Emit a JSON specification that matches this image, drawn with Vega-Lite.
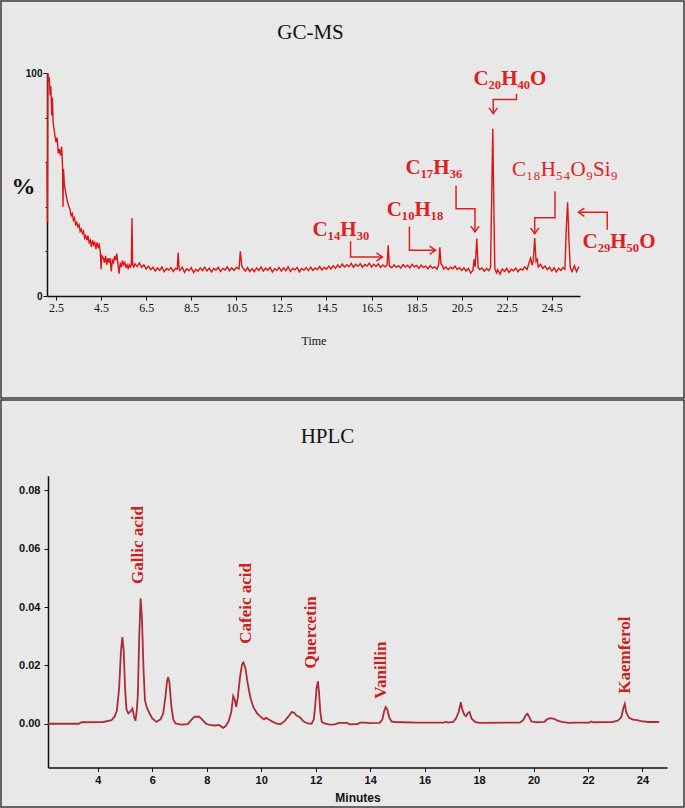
{
  "$schema": "https://vega.github.io/schema/vega-lite/v6.json",
  "background": "#e8e8e8",
  "padding": 0,
  "spacing": 0,
  "config": {
    "view": {"stroke": "#3a3a3a", "strokeWidth": 1.5, "fill": "#e8e8e8"},
    "axis": {"grid": false, "labelFlush": false, "domainColor": "#111", "tickColor": "#111", "labelColor": "#111", "titleColor": "#111"}
  },
  "datasets": {
    "gc": [
      {"t":2.10,"v":60},{"t":2.12,"v":33},{"t":2.14,"v":100},{"t":2.17,"v":96},{"t":2.2,"v":98},{"t":2.24,"v":90},{"t":2.27,"v":94},{"t":2.31,"v":81},{"t":2.34,"v":89},{"t":2.37,"v":78},{"t":2.4,"v":76},{"t":2.45,"v":72},{"t":2.5,"v":69},{"t":2.55,"v":71},{"t":2.6,"v":64},{"t":2.65,"v":66},{"t":2.7,"v":63},{"t":2.75,"v":67},{"t":2.79,"v":58},{"t":2.81,"v":40},{"t":2.83,"v":57},{"t":2.87,"v":50},{"t":2.92,"v":47},{"t":2.97,"v":44},{"t":3.02,"v":42},{"t":3.07,"v":40},{"t":3.12,"v":39},{"t":3.17,"v":36},{"t":3.22,"v":37},{"t":3.27,"v":34},{"t":3.32,"v":35},{"t":3.37,"v":32},{"t":3.42,"v":33},{"t":3.47,"v":31},{"t":3.52,"v":32},{"t":3.57,"v":29},{"t":3.62,"v":30},{"t":3.67,"v":28},{"t":3.72,"v":29},{"t":3.77,"v":26},{"t":3.82,"v":27},{"t":3.87,"v":25},{"t":3.92,"v":27},{"t":3.97,"v":24},{"t":4.02,"v":25},{"t":4.07,"v":22},{"t":4.12,"v":25},{"t":4.17,"v":23},{"t":4.22,"v":24},{"t":4.27,"v":21},{"t":4.32,"v":24},{"t":4.37,"v":22},{"t":4.42,"v":23},{"t":4.47,"v":19},{"t":4.5,"v":12},{"t":4.53,"v":18},{"t":4.6,"v":17},{"t":4.65,"v":15},{"t":4.7,"v":18},{"t":4.75,"v":14},{"t":4.8,"v":17},{"t":4.85,"v":15},{"t":4.9,"v":17},{"t":4.95,"v":11},{"t":5.0,"v":16},{"t":5.05,"v":15},{"t":5.1,"v":18},{"t":5.15,"v":16},{"t":5.2,"v":19},{"t":5.25,"v":14},{"t":5.3,"v":10},{"t":5.35,"v":15},{"t":5.4,"v":13},{"t":5.45,"v":16},{"t":5.5,"v":14},{"t":5.55,"v":15},{"t":5.6,"v":13},{"t":5.65,"v":14},{"t":5.7,"v":12},{"t":5.75,"v":14},{"t":5.8,"v":13},{"t":5.84,"v":14},{"t":5.87,"v":35},{"t":5.9,"v":14},{"t":5.95,"v":13},
      {"t":6.0,"v":14.5},{"t":6.1,"v":13.2},{"t":6.2,"v":14.8},{"t":6.3,"v":12.9},{"t":6.4,"v":13.9},{"t":6.5,"v":12.1},{"t":6.6,"v":13.4},{"t":6.7,"v":11.8},{"t":6.8,"v":12.9},{"t":6.9,"v":11.2},{"t":7.0,"v":12.6},{"t":7.1,"v":11.5},{"t":7.2,"v":13.0},{"t":7.3,"v":10.9},{"t":7.4,"v":12.3},{"t":7.5,"v":11.6},{"t":7.6,"v":12.8},{"t":7.7,"v":11.0},{"t":7.8,"v":12.4},{"t":7.88,"v":12.0},{"t":7.92,"v":19.5},{"t":7.96,"v":12.5},{"t":8.0,"v":11.4},{"t":8.1,"v":12.9},{"t":8.2,"v":10.6},{"t":8.3,"v":12.2},{"t":8.4,"v":11.3},{"t":8.5,"v":12.7},{"t":8.6,"v":10.5},{"t":8.7,"v":12.0},{"t":8.8,"v":11.1},{"t":8.9,"v":12.6},{"t":9.0,"v":11.4},{"t":9.1,"v":13.0},{"t":9.2,"v":11.2},{"t":9.3,"v":12.5},{"t":9.4,"v":10.8},{"t":9.5,"v":12.3},{"t":9.6,"v":11.6},{"t":9.7,"v":12.9},{"t":9.8,"v":11.0},{"t":9.9,"v":12.4},{"t":10.0,"v":11.7},{"t":10.1,"v":13.1},{"t":10.2,"v":11.3},{"t":10.3,"v":12.6},{"t":10.4,"v":11.5},{"t":10.5,"v":12.8},{"t":10.62,"v":12.2},{"t":10.68,"v":20.0},{"t":10.74,"v":13.6},{"t":10.8,"v":12.5},{"t":10.9,"v":11.2},{"t":11.0,"v":12.7},{"t":11.1,"v":11.0},{"t":11.2,"v":12.3},{"t":11.3,"v":10.9},{"t":11.4,"v":12.6},{"t":11.5,"v":11.4},{"t":11.6,"v":13.0},{"t":11.7,"v":11.1},{"t":11.8,"v":12.5},{"t":11.9,"v":11.6},{"t":12.0,"v":12.9},{"t":12.1,"v":10.7},{"t":12.2,"v":12.2},{"t":12.3,"v":11.5},{"t":12.4,"v":12.8},{"t":12.5,"v":11.2},{"t":12.6,"v":12.6},{"t":12.7,"v":11.3},{"t":12.8,"v":13.1},{"t":12.9,"v":11.0},{"t":13.0,"v":12.4},{"t":13.1,"v":11.7},{"t":13.2,"v":12.8},{"t":13.3,"v":10.8},{"t":13.4,"v":12.3},{"t":13.5,"v":11.6},{"t":13.6,"v":12.7},{"t":13.7,"v":11.4},{"t":13.8,"v":12.9},{"t":13.9,"v":11.5},{"t":14.0,"v":12.6},{"t":14.1,"v":11.9},{"t":14.2,"v":13.2},{"t":14.3,"v":11.6},{"t":14.4,"v":12.9},{"t":14.5,"v":12.0},{"t":14.6,"v":13.4},{"t":14.7,"v":12.1},{"t":14.8,"v":13.6},{"t":14.9,"v":12.4},{"t":15.0,"v":13.9},{"t":15.1,"v":12.7},{"t":15.2,"v":14.3},{"t":15.3,"v":12.9},{"t":15.4,"v":14.0},{"t":15.5,"v":13.1},{"t":15.6,"v":14.6},{"t":15.7,"v":12.8},{"t":15.8,"v":14.2},{"t":15.9,"v":13.3},{"t":16.0,"v":14.5},{"t":16.1,"v":12.9},{"t":16.2,"v":14.1},{"t":16.3,"v":13.4},{"t":16.4,"v":14.7},{"t":16.5,"v":13.0},{"t":16.6,"v":14.2},{"t":16.7,"v":13.2},{"t":16.8,"v":14.4},{"t":16.9,"v":12.8},{"t":17.0,"v":13.9},{"t":17.1,"v":13.1},{"t":17.19,"v":13.8},{"t":17.24,"v":22.7},{"t":17.29,"v":13.5},{"t":17.4,"v":12.7},{"t":17.5,"v":14.0},{"t":17.6,"v":12.9},{"t":17.7,"v":13.6},{"t":17.8,"v":12.5},{"t":17.9,"v":14.1},{"t":18.0,"v":13.0},{"t":18.1,"v":13.8},{"t":18.2,"v":12.6},{"t":18.3,"v":14.2},{"t":18.4,"v":13.1},{"t":18.5,"v":13.7},{"t":18.6,"v":12.4},{"t":18.7,"v":13.9},{"t":18.8,"v":12.8},{"t":18.9,"v":13.4},{"t":19.0,"v":12.2},{"t":19.1,"v":13.6},{"t":19.2,"v":12.5},{"t":19.3,"v":13.1},{"t":19.4,"v":12.0},{"t":19.48,"v":14.0},{"t":19.53,"v":21.8},{"t":19.58,"v":14.5},{"t":19.65,"v":13.5},{"t":19.7,"v":12.1},{"t":19.8,"v":13.0},{"t":19.9,"v":11.8},{"t":20.0,"v":12.9},{"t":20.1,"v":12.2},{"t":20.2,"v":13.4},{"t":20.3,"v":11.9},{"t":20.4,"v":12.7},{"t":20.5,"v":11.5},{"t":20.6,"v":12.6},{"t":20.7,"v":11.2},{"t":20.8,"v":12.3},{"t":20.9,"v":10.2},{"t":21.0,"v":11.6},{"t":21.05,"v":16.5},{"t":21.1,"v":13.0},{"t":21.17,"v":25.8},{"t":21.23,"v":12.8},{"t":21.3,"v":11.9},{"t":21.4,"v":12.6},{"t":21.5,"v":11.1},{"t":21.6,"v":12.3},{"t":21.7,"v":11.4},{"t":21.78,"v":12.6},{"t":21.84,"v":50},{"t":21.88,"v":75},{"t":21.92,"v":45},{"t":21.97,"v":12.2},{"t":22.05,"v":10.4},{"t":22.1,"v":11.8},{"t":22.2,"v":9.8},{"t":22.3,"v":12.1},{"t":22.4,"v":11.0},{"t":22.5,"v":12.4},{"t":22.6,"v":10.6},{"t":22.7,"v":12.0},{"t":22.8,"v":11.3},{"t":22.9,"v":12.5},{"t":23.0,"v":10.9},{"t":23.1,"v":12.2},{"t":23.2,"v":11.6},{"t":23.3,"v":13.1},{"t":23.4,"v":11.9},{"t":23.5,"v":15.2},{"t":23.56,"v":17.0},{"t":23.62,"v":13.8},{"t":23.68,"v":16.0},{"t":23.74,"v":26.0},{"t":23.8,"v":15.5},{"t":23.85,"v":16.4},{"t":23.9,"v":13.0},{"t":24.0,"v":14.2},{"t":24.1,"v":12.3},{"t":24.2,"v":13.4},{"t":24.3,"v":11.8},{"t":24.4,"v":12.9},{"t":24.5,"v":11.2},{"t":24.6,"v":12.6},{"t":24.7,"v":10.8},{"t":24.8,"v":12.4},{"t":24.9,"v":11.5},{"t":25.0,"v":12.8},{"t":25.08,"v":12.0},{"t":25.14,"v":30},{"t":25.2,"v":42},{"t":25.26,"v":25},{"t":25.32,"v":12.5},{"t":25.4,"v":11.0},{"t":25.5,"v":13.6},{"t":25.6,"v":10.9},{"t":25.7,"v":13.2}
    ],
    "gcArrows": [
      {"arrow":"C20","o":1,"t":22.93,"v":90.6},{"arrow":"C20","o":2,"t":22.93,"v":88.1},{"arrow":"C20","o":3,"t":21.90,"v":88.1},{"arrow":"C20","o":4,"t":21.90,"v":81.7},
      {"arrow":"C17","o":1,"t":20.25,"v":49.6},{"arrow":"C17","o":2,"t":20.25,"v":39.1},{"arrow":"C17","o":3,"t":21.09,"v":39.1},{"arrow":"C17","o":4,"t":21.09,"v":28.7},
      {"arrow":"C10","o":1,"t":18.18,"v":31.2},{"arrow":"C10","o":2,"t":18.18,"v":20.5},{"arrow":"C10","o":3,"t":19.34,"v":20.5},
      {"arrow":"C14","o":1,"t":15.57,"v":24.6},{"arrow":"C14","o":2,"t":15.57,"v":17.5},{"arrow":"C14","o":3,"t":16.98,"v":17.5},
      {"arrow":"C18","o":1,"t":24.64,"v":47.0},{"arrow":"C18","o":2,"t":24.64,"v":35.1},{"arrow":"C18","o":3,"t":23.74,"v":35.1},{"arrow":"C18","o":4,"t":23.74,"v":27.9},
      {"arrow":"C29","o":1,"t":26.96,"v":29.7},{"arrow":"C29","o":2,"t":26.96,"v":37.6},{"arrow":"C29","o":3,"t":25.68,"v":37.6}
    ],
    "gcHeads": [
      {"dir":"down","t":21.90,"v":81.7},{"dir":"down","t":21.09,"v":28.7},{"dir":"down","t":23.74,"v":27.9},
      {"dir":"right","t":19.34,"v":20.5},{"dir":"right","t":16.98,"v":17.5},
      {"dir":"left","t":25.68,"v":37.6}
    ],
    "gcLabels": [
      {"label":"C₂₀H₄₀O","t":22.64,"v":97.5},
      {"label":"C₁₇H₃₆","t":19.27,"v":57.2},
      {"label":"C₁₀H₁₈","t":18.43,"v":38.4},
      {"label":"C₁₄H₃₀","t":15.14,"v":29.4},
      {"label":"C₁₈H₅₄O₉Si₉","t":25.08,"v":56.3},
      {"label":"C₂₉H₅₀O","t":27.48,"v":24.0}
    ],
    "hplc": [
      {"t":2.17,"v":0.0},{"t":3.3,"v":0.0},{"t":3.4,"v":0.0005},{"t":4.2,"v":0.0006},{"t":4.5,"v":0.0012},{"t":4.62,"v":0.0025},{"t":4.7,"v":0.0045},{"t":4.78,"v":0.012},{"t":4.85,"v":0.025},{"t":4.9,"v":0.0297},{"t":4.95,"v":0.025},{"t":5.0,"v":0.012},{"t":5.05,"v":0.005},{"t":5.12,"v":0.0035},{"t":5.2,"v":0.0042},{"t":5.27,"v":0.0052},{"t":5.33,"v":0.0025},{"t":5.38,"v":0.001},{"t":5.43,"v":0.0045},{"t":5.47,"v":0.01},{"t":5.52,"v":0.03},{"t":5.57,"v":0.043},{"t":5.62,"v":0.036},{"t":5.68,"v":0.018},{"t":5.73,"v":0.008},{"t":5.8,"v":0.0055},{"t":5.9,"v":0.0035},{"t":6.0,"v":0.0018},{"t":6.15,"v":0.0006},{"t":6.3,"v":0.0015},{"t":6.4,"v":0.0035},{"t":6.48,"v":0.009},{"t":6.54,"v":0.0145},{"t":6.58,"v":0.016},{"t":6.63,"v":0.014},{"t":6.7,"v":0.006},{"t":6.77,"v":0.0015},{"t":6.85,"v":0.0001},{"t":7.05,"v":-0.0003},{"t":7.3,"v":-0.0001},{"t":7.45,"v":0.0015},{"t":7.55,"v":0.0024},{"t":7.72,"v":0.0024},{"t":7.85,"v":0.0012},{"t":7.97,"v":0.0},{"t":8.1,"v":-0.0004},{"t":8.3,"v":-0.0006},{"t":8.45,"v":-0.0004},{"t":8.6,"v":-0.0014},{"t":8.7,"v":-0.0008},{"t":8.8,"v":0.0008},{"t":8.9,"v":0.004},{"t":8.97,"v":0.0095},{"t":9.02,"v":0.0085},{"t":9.08,"v":0.0058},{"t":9.14,"v":0.009},{"t":9.22,"v":0.016},{"t":9.3,"v":0.0205},{"t":9.35,"v":0.021},{"t":9.42,"v":0.019},{"t":9.5,"v":0.014},{"t":9.6,"v":0.009},{"t":9.72,"v":0.0055},{"t":9.85,"v":0.0035},{"t":10.0,"v":0.0022},{"t":10.1,"v":0.0015},{"t":10.18,"v":0.002},{"t":10.25,"v":0.0016},{"t":10.4,"v":0.0008},{"t":10.55,"v":0.0001},{"t":10.7,"v":-0.0002},{"t":10.85,"v":0.0008},{"t":11.0,"v":0.0025},{"t":11.12,"v":0.004},{"t":11.2,"v":0.0038},{"t":11.3,"v":0.0028},{"t":11.42,"v":0.0022},{"t":11.55,"v":0.0008},{"t":11.7,"v":0.0001},{"t":11.85,"v":0.0},{"t":11.93,"v":0.0015},{"t":11.98,"v":0.006},{"t":12.03,"v":0.012},{"t":12.08,"v":0.0145},{"t":12.12,"v":0.011},{"t":12.17,"v":0.004},{"t":12.22,"v":0.0007},{"t":12.3,"v":0.0002},{"t":12.5,"v":-0.0003},{"t":12.7,"v":-0.0002},{"t":12.85,"v":0.0003},{"t":13.15,"v":0.0003},{"t":13.25,"v":-0.0002},{"t":13.55,"v":-0.0001},{"t":13.62,"v":0.0004},{"t":13.85,"v":0.0004},{"t":13.95,"v":0.0002},{"t":14.35,"v":0.0003},{"t":14.45,"v":0.0015},{"t":14.52,"v":0.0045},{"t":14.57,"v":0.0057},{"t":14.63,"v":0.0048},{"t":14.7,"v":0.0022},{"t":14.78,"v":0.0008},{"t":14.9,"v":0.0006},{"t":15.2,"v":0.0005},{"t":15.7,"v":0.0004},{"t":16.7,"v":0.0004},{"t":16.78,"v":0.0007},{"t":16.85,"v":0.0004},{"t":17.05,"v":0.0006},{"t":17.15,"v":0.0018},{"t":17.25,"v":0.004},{"t":17.33,"v":0.0074},{"t":17.38,"v":0.005},{"t":17.46,"v":0.003},{"t":17.52,"v":0.0026},{"t":17.6,"v":0.0038},{"t":17.65,"v":0.004},{"t":17.72,"v":0.0018},{"t":17.85,"v":0.0006},{"t":18.0,"v":0.0003},{"t":19.5,"v":0.0004},{"t":19.62,"v":0.0012},{"t":19.72,"v":0.003},{"t":19.78,"v":0.0034},{"t":19.85,"v":0.0022},{"t":19.92,"v":0.0008},{"t":20.1,"v":0.0005},{"t":20.4,"v":0.0006},{"t":20.5,"v":0.0016},{"t":20.62,"v":0.0019},{"t":20.75,"v":0.0017},{"t":20.9,"v":0.001},{"t":21.05,"v":0.0006},{"t":21.3,"v":0.0003},{"t":21.5,"v":0.0004},{"t":22.05,"v":0.0004},{"t":22.12,"v":0.0008},{"t":22.2,"v":0.0005},{"t":22.9,"v":0.0006},{"t":23.1,"v":0.0011},{"t":23.22,"v":0.0022},{"t":23.3,"v":0.0055},{"t":23.35,"v":0.0068},{"t":23.4,"v":0.004},{"t":23.5,"v":0.002},{"t":23.65,"v":0.0014},{"t":23.8,"v":0.0012},{"t":23.95,"v":0.0009},{"t":24.2,"v":0.0006},{"t":24.61,"v":0.0006}
    ],
    "hplcLabels": [
      {"label":"Gallic acid","t":5.475,"v":0.0479},
      {"label":"Cafeic acid","t":9.44,"v":0.0274},
      {"label":"Quercetin","t":11.84,"v":0.0189},
      {"label":"Vanillin","t":14.40,"v":0.0086},
      {"label":"Kaemferol","t":23.34,"v":0.0103}
    ]
  },
  "vconcat": [
    {
      "width": 683,
      "height": 397,
      "title": {"text": "GC-MS", "font": "Liberation Serif", "fontSize": 21, "fontWeight": "normal", "color": "#111", "baseline": "alphabetic", "offset": -59, "dx": -32, "anchor": "middle", "frame": "group"},
      "layer": [
        {
          "data": {"name": "gc"},
          "mark": {"type": "line", "color": "#dd1414", "strokeWidth": 1.4},
          "encoding": {
            "x": {"field": "t", "type": "quantitative",
              "scale": {"domain": [2.1, 25.75], "range": [46, 579], "nice": false, "zero": false},
              "axis": {"offset": -102, "title": "Time", "titleFont": "Liberation Serif", "titleFontSize": 12, "titleFontWeight": "normal", "titleY": 44, "titleBaseline": "middle",
                "values": [2.5,4.5,6.5,8.5,10.5,12.5,14.5,16.5,18.5,20.5,22.5,24.5],
                "format": ".1f", "labelOverlap": false,
                "tickSize": 4,
                "labelFont": "Liberation Serif", "labelFontSize": 12, "labelPadding": 2, "domainWidth": 1.5}
            },
            "y": {"field": "v", "type": "quantitative",
              "scale": {"domain": [0, 100], "range": [295, 72], "nice": false, "zero": false},
              "axis": {"offset": -46, "values": [0,10,20,30,40,50,60,70,80,90,100],
                "labelOverlap": false,
                "labelExpr": "datum.value === 0 || datum.value === 100 ? datum.label : ''",
                "tickSize": {"condition": {"test": "datum.value % 50 === 0", "value": 4}, "value": 2},
                "labelFont": "Liberation Sans", "labelFontSize": 10, "labelFontWeight": "bold", "labelPadding": 1, "domainWidth": 1.5,
                "title": "%", "titleAngle": 0, "titleFont": "Liberation Serif", "titleFontSize": 24, "titleFontWeight": "bold", "titleX": -24, "titleY": 185, "titleAlign": "center", "titleBaseline": "middle"}
            }
          }
        },
        {
          "data": {"name": "gcArrows"},
          "mark": {"type": "line", "color": "#e02020", "strokeWidth": 1.5},
          "encoding": {
            "x": {"field": "t", "type": "quantitative"},
            "y": {"field": "v", "type": "quantitative"},
            "detail": {"field": "arrow"},
            "order": {"field": "o"}
          }
        },
        {
          "data": {"name": "gcHeads"},
          "transform": [{"filter": "datum.dir === 'down'"}],
          "mark": {"type": "point", "shape": "M-0.7,-1L0,0L0.7,-1", "filled": false, "color": "#e02020", "strokeWidth": 1.5, "size": 140, "opacity": 1},
          "encoding": {"x": {"field": "t", "type": "quantitative"}, "y": {"field": "v", "type": "quantitative"}}
        },
        {
          "data": {"name": "gcHeads"},
          "transform": [{"filter": "datum.dir === 'right'"}],
          "mark": {"type": "point", "shape": "M-1,-0.7L0,0L-1,0.7", "filled": false, "color": "#e02020", "strokeWidth": 1.5, "size": 140, "opacity": 1},
          "encoding": {"x": {"field": "t", "type": "quantitative"}, "y": {"field": "v", "type": "quantitative"}}
        },
        {
          "data": {"name": "gcHeads"},
          "transform": [{"filter": "datum.dir === 'left'"}],
          "mark": {"type": "point", "shape": "M1,-0.7L0,0L1,0.7", "filled": false, "color": "#e02020", "strokeWidth": 1.5, "size": 140, "opacity": 1},
          "encoding": {"x": {"field": "t", "type": "quantitative"}, "y": {"field": "v", "type": "quantitative"}}
        },
        {
          "data": {"name": "gcLabels"},
          "transform": [{"filter": "datum.label !== 'C₁₈H₅₄O₉Si₉'"}],
          "mark": {"type": "text", "font": "Liberation Serif", "fontSize": 21, "fontWeight": "bold", "color": "#e02020", "align": "center", "baseline": "middle"},
          "encoding": {"x": {"field": "t", "type": "quantitative"}, "y": {"field": "v", "type": "quantitative"}, "text": {"field": "label"}}
        },
        {
          "data": {"name": "gcLabels"},
          "transform": [{"filter": "datum.label === 'C₁₈H₅₄O₉Si₉'"}],
          "mark": {"type": "text", "font": "Liberation Serif", "fontSize": 21, "fontWeight": "normal", "color": "#e02020", "align": "center", "baseline": "middle"},
          "encoding": {"x": {"field": "t", "type": "quantitative"}, "y": {"field": "v", "type": "quantitative"}, "text": {"field": "label"}}
        }
      ]
    },
    {
      "width": 683,
      "height": 407,
      "title": {"text": "HPLC", "font": "Liberation Serif", "fontSize": 21, "fontWeight": "normal", "color": "#111", "baseline": "alphabetic", "offset": -64, "dx": -15, "anchor": "middle", "frame": "group"},
      "layer": [
        {
          "data": {"name": "hplc"},
          "mark": {"type": "line", "color": "#ad2b36", "strokeWidth": 1.8},
          "encoding": {
            "x": {"field": "t", "type": "quantitative",
              "scale": {"domain": [2.17, 24.9], "range": [47, 666], "nice": false, "zero": false},
              "axis": {"offset": -39.5, "title": "Minutes", "titleFont": "Liberation Sans", "titleFontSize": 12, "titleFontWeight": "bold", "titleY": 30, "titleBaseline": "middle",
                "values": [4,6,8,10,12,14,16,18,20,22,24],
                "format": "d", "labelOverlap": false,
                "tickSize": 4,
                "labelFont": "Liberation Sans", "labelFontSize": 11, "labelFontWeight": "bold", "labelPadding": 3, "domainWidth": 1.5}
            },
            "y": {"field": "v", "type": "quantitative",
              "scale": {"domain": [-0.015, 0.085], "range": [367.5, 75.7], "nice": false, "zero": false},
              "axis": {"offset": -47, "title": null,
                "values": [0,0.02,0.04,0.06,0.08],
                "format": ".2f", "labelOverlap": false,
                "tickSize": 4,
                "labelFont": "Liberation Sans", "labelFontSize": 11, "labelFontWeight": "bold", "labelPadding": 4, "domainWidth": 1.5}
            }
          }
        },
        {
          "data": {"name": "hplcLabels"},
          "mark": {"type": "text", "font": "Liberation Serif", "fontSize": 17, "fontWeight": "bold", "color": "#cc2020", "angle": 270, "align": "left", "baseline": "middle"},
          "encoding": {"x": {"field": "t", "type": "quantitative"}, "y": {"field": "v", "type": "quantitative"}, "text": {"field": "label"}}
        }
      ]
    }
  ]
}
